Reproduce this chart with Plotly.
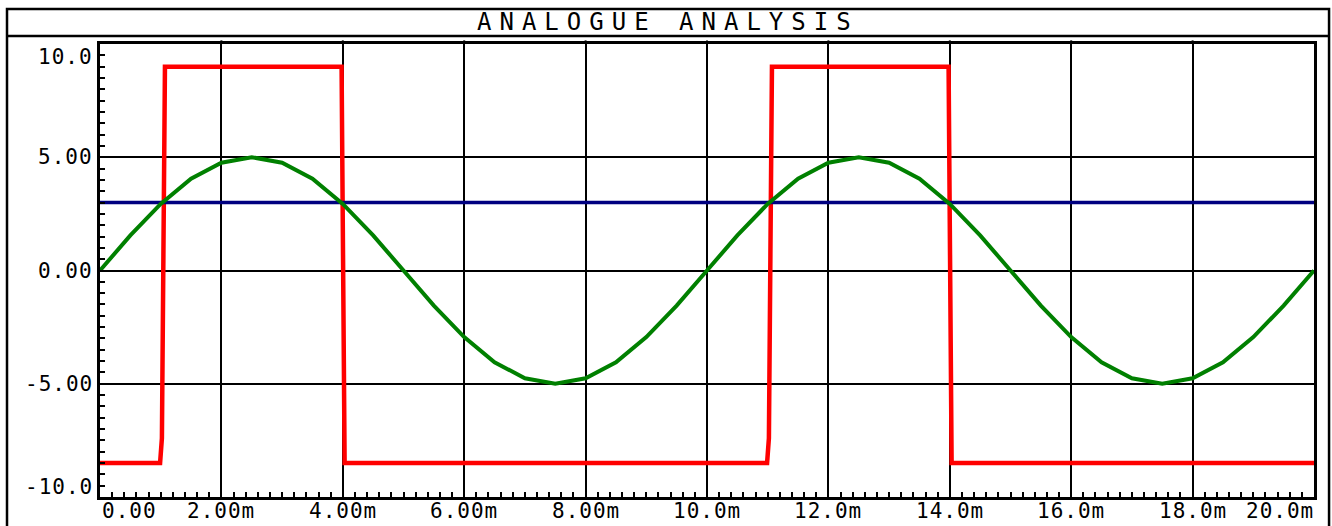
import plotly.graph_objects as go

# ---- data (time in ms) ----
sine_t = [i * 0.5 for i in range(41)]
sine_v = [0.00, 1.55, 2.94, 4.05, 4.76, 5.00, 4.76, 4.05, 2.94, 1.55,
          0.00, -1.55, -2.94, -4.05, -4.76, -5.00, -4.76, -4.05, -2.94, -1.55,
          0.00, 1.55, 2.94, 4.05, 4.76, 5.00, 4.76, 4.05, 2.94, 1.55,
          0.00, -1.55, -2.94, -4.05, -4.76, -5.00, -4.76, -4.05, -2.94, -1.55,
          0.00]
ref_t = [0.0, 20.0]
ref_v = [3.0, 3.0]
sq_t = [0.0, 0.99, 1.02, 1.07, 3.98, 4.03, 10.99, 11.02, 11.07, 13.98, 14.03, 20.0]
sq_v = [-8.5, -8.5, -7.4, 9.0, 9.0, -8.5, -8.5, -7.4, 9.0, 9.0, -8.5, -8.5]

x_ticks = [0, 2, 4, 6, 8, 10, 12, 14, 16, 18, 20]
x_labels = ["0.00", "2.00m", "4.00m", "6.00m", "8.00m", "10.0m", "12.0m",
            "14.0m", "16.0m", "18.0m", "20.0m"]
y_ticks = [-10, -5, 0, 5, 10]
y_labels = ["-10.0", "-5.00", "0.00", "5.00", "10.0"]
title_text = "ANALOGUE ANALYSIS"

FONT = "DejaVu Sans Mono"

fig = go.Figure()
fig.add_trace(go.Scatter(x=sq_t, y=sq_v, mode="lines",
                         line=dict(color="#ff0000", width=4.5)))
fig.add_trace(go.Scatter(x=ref_t, y=ref_v, mode="lines",
                         line=dict(color="#000080", width=3.5)))
fig.add_trace(go.Scatter(x=sine_t, y=sine_v, mode="lines",
                         line=dict(color="#008000", width=4)))

def sp(txt, ls):
    return '<span style="letter-spacing:%dpx">%s</span>' % (ls, txt)

annotations = []
n = len(x_ticks)
for i, (v, lab) in enumerate(zip(x_ticks, x_labels)):
    anchor = "center"
    xs = 0
    if i == 0:
        anchor = "left"
    elif i == n - 1:
        anchor = "right"
        xs = 2
    annotations.append(dict(x=v, y=0, xref="x", yref="paper", text=sp(lab, 1),
                            showarrow=False, xanchor=anchor, yanchor="middle",
                            yshift=-14, xshift=xs,
                            font=dict(family=FONT, size=21, color="black")))
for v, lab in zip(y_ticks, y_labels):
    ys = 0
    if v == max(y_ticks):
        ys = -13
    elif v == min(y_ticks):
        ys = 10
    annotations.append(dict(x=0, y=v, xref="paper", yref="y", text=sp(lab, 1),
                            showarrow=False, xanchor="right", yanchor="middle",
                            xshift=-5, yshift=ys,
                            font=dict(family=FONT, size=21, color="black")))
annotations.append(dict(x=0.4675, y=1.0486, xref="paper", yref="paper",
                        text=sp(title_text, 8), showarrow=False,
                        xanchor="center", yanchor="middle",
                        font=dict(family=FONT, size=24, color="black")))

shapes = [
    dict(type="rect", xref="paper", yref="paper", x0=-0.0766, x1=1.0124,
         y0=-0.3, y1=1.0773, line=dict(color="black", width=2.5), layer="below"),
    dict(type="line", xref="paper", yref="paper", x0=-0.0766, x1=1.0124,
         y0=1.0177, y1=1.0177, line=dict(color="black", width=2.5)),
]
for v in x_ticks[1:-1]:
    shapes.append(dict(type="line", xref="x", yref="paper", x0=v, x1=v,
                       y0=1.0, y1=1.008, line=dict(color="black", width=2)))

fig.update_layout(
    width=1332, height=526,
    margin=dict(l=100, r=18, t=44, b=29),
    paper_bgcolor="white", plot_bgcolor="white",
    showlegend=False,
    annotations=annotations, shapes=shapes,
    xaxis=dict(range=[0, 20], tickmode="array", tickvals=x_ticks,
               showticklabels=False, ticks="inside", ticklen=5, tickwidth=2,
               tickcolor="black",
               showgrid=True, gridcolor="black", gridwidth=2, zeroline=False,
               showline=True, linecolor="black", linewidth=3, mirror=True,
               minor=dict(dtick=0.2, tick0=0, ticks="inside", ticklen=5,
                          tickwidth=2, tickcolor="black", showgrid=False)),
    yaxis=dict(range=[-10, 10], tickmode="array", tickvals=y_ticks,
               showticklabels=False, ticks="inside", ticklen=5, tickwidth=2,
               tickcolor="black",
               showgrid=True, gridcolor="black", gridwidth=2, zeroline=False,
               showline=True, linecolor="black", linewidth=3, mirror=True,
               minor=dict(dtick=0.5, tick0=0, ticks="inside", ticklen=5,
                          tickwidth=2, tickcolor="black", showgrid=False)),
)

fig.write_html("out.html", config={"displayModeBar": False, "staticPlot": True},
               post_script="document.body.style.margin='0';document.body.style.overflow='hidden';")
